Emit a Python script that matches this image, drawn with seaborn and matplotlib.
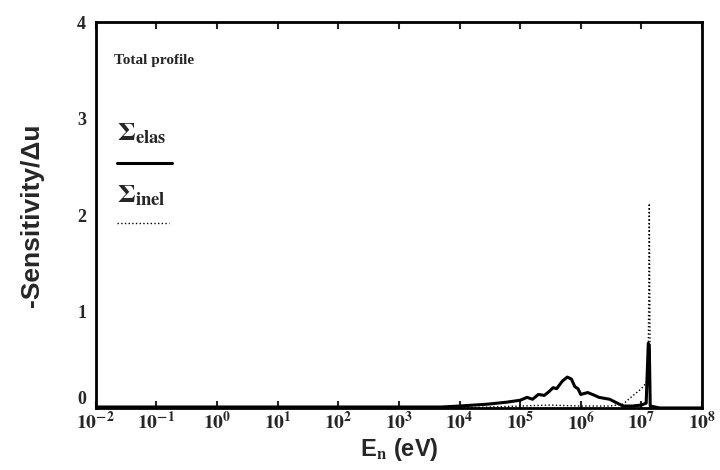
import numpy as np
import pandas as pd
import matplotlib
matplotlib.use("Agg")
import matplotlib.pyplot as plt
import seaborn as sns

# energies (eV) and sensitivity values
e_elas = [1e-2, 1e-1, 1e0, 1e1, 1e2, 1e3, 5e3, 1e4, 3e4, 6e4, 1e5, 1.3e5, 1.6e5, 2e5,
          2.5e5, 3e5, 3.5e5, 4e5, 5e5, 6e5, 7e5, 8e5, 9e5, 1e6, 1.3e6, 1.7e6, 2e6,
          3e6, 4e6, 5e6, 7e6, 1e7, 1.2e7, 1.3e7, 1.35e7, 1.4e7, 2e7, 1e8]
s_elas = [0.01, 0.01, 0.01, 0.01, 0.01, 0.01, 0.01, 0.02, 0.04, 0.06, 0.08, 0.11, 0.09, 0.14,
          0.13, 0.17, 0.21, 0.2, 0.28, 0.32, 0.3, 0.22, 0.2, 0.14, 0.16, 0.13, 0.11,
          0.09, 0.05, 0.02, 0.02, 0.03, 0.05, 0.67, 0.65, 0.02, 0.0, 0.0]

e_inel = [1e-2, 1e4, 1e5, 3e5, 1e6, 3e6, 5e6, 7e6, 1e7, 1.2e7, 1.3e7, 1.35e7, 1.38e7, 1.4e7, 2e7, 1e8]
s_inel = [0.0, 0.0, 0.02, 0.03, 0.02, 0.02, 0.04, 0.12, 0.2, 0.26, 0.5, 2.12, 1.0, 0.0, 0.0, 0.0]

elas = pd.DataFrame({"E": e_elas, "S": s_elas})
inel = pd.DataFrame({"E": e_inel, "S": s_inel})

sns.set_style("white")
plt.rcParams["font.family"] = ["Liberation Serif", "DejaVu Serif"]
plt.rcParams["mathtext.fontset"] = "stix"

fig = plt.figure(figsize=(7.2, 4.7), dpi=100)
ax = fig.add_axes([0.133, 0.132, 0.842, 0.821])

sns.lineplot(data=elas, x="E", y="S", ax=ax, color="black", linewidth=2.2)
sns.lineplot(data=inel, x="E", y="S", ax=ax, color="black", linewidth=1.0, linestyle=":")

ax.set_xscale("log")
ax.set_xlim(1e-2, 1e8)
ax.set_ylim(0, 4)
ax.set_xticks([10.0 ** k for k in range(-2, 9)])
ax.set_xticklabels([f"$\\mathbf{{10^{{{k}}}}}$" for k in range(-2, 9)], fontsize=14)
ax.minorticks_off()
ax.set_yticks([0, 1, 2, 3, 4])
ax.set_yticklabels(["0", "1", "2", "3", "4"], fontsize=13, fontweight="bold")
ax.get_yticklabels()[0].set_va("bottom")
ax.tick_params(axis="x", direction="in", top=True, bottom=True, length=5, width=1.5, pad=2)
ax.tick_params(axis="y", direction="in", left=True, length=0, pad=7)
for sp in ax.spines.values():
    sp.set_linewidth(2)
    sp.set_color("black")

ax.set_xlabel("E$_\\mathbf{n}$ (eV)", fontsize=17, fontweight="bold",
              family="Liberation Sans", labelpad=1)
ax.set_ylabel("-Sensitivity/\u0394u", fontsize=19, fontweight="bold",
              family="Liberation Sans", labelpad=24)

ax.text(0.03, 0.9, "Total profile", transform=ax.transAxes, fontsize=11,
        fontweight="bold", va="center")
ax.text(0.035, 0.71, "$\\mathbf{\\Sigma_{elas}}$", transform=ax.transAxes, fontsize=19,
        va="center")
ax.plot([0.035, 0.125], [0.635, 0.635], transform=ax.transAxes, color="black", linewidth=2.2)
ax.text(0.035, 0.55, "$\\mathbf{\\Sigma_{inel}}$", transform=ax.transAxes, fontsize=19,
        va="center")
ax.plot([0.035, 0.12], [0.48, 0.48], transform=ax.transAxes, color="black", linewidth=1,
        linestyle=":")

fig.savefig("out.png", dpi=100)
